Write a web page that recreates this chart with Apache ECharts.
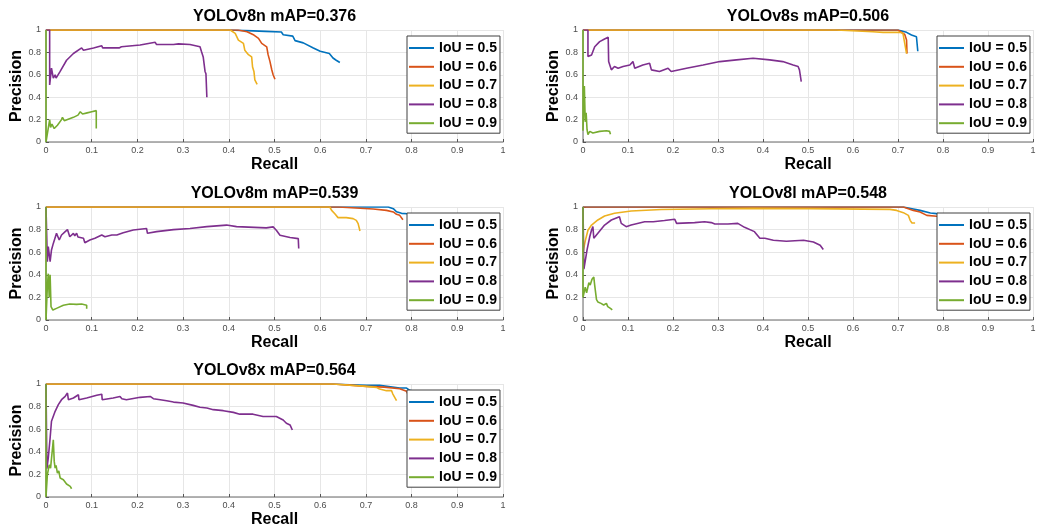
<!DOCTYPE html>
<html>
<head>
<meta charset="utf-8">
<script src="https://cdn.jsdelivr.net/npm/echarts@6/dist/echarts.min.js"></script>
<style>html,body{margin:0;padding:0;background:#fff}#c{width:1051px;height:531px}</style>
</head>
<body>
<div id="c"></div>
<script>
// ---------- data (recall, precision) ----------
const titles = ['YOLOv8n mAP=0.376','YOLOv8s mAP=0.506','YOLOv8m mAP=0.539','YOLOv8l mAP=0.548','YOLOv8x mAP=0.564'];
const seriesNames = ['IoU = 0.5','IoU = 0.6','IoU = 0.7','IoU = 0.8','IoU = 0.9'];
const xTicks = [0,0.1,0.2,0.3,0.4,0.5,0.6,0.7,0.8,0.9,1];
const yTicks = [0,0.2,0.4,0.6,0.8,1];

// YOLOv8n
const v8n_05 = [[0,1],[0.40,1],[0.44,0.994],[0.48,0.988],[0.515,0.982],[0.519,0.958],[0.54,0.945],[0.545,0.905],[0.563,0.885],[0.585,0.84],[0.6,0.81],[0.62,0.79],[0.628,0.75],[0.635,0.73],[0.643,0.71]];
const v8n_06 = [[0,1],[0.42,1],[0.44,0.985],[0.455,0.955],[0.465,0.925],[0.472,0.88],[0.483,0.85],[0.486,0.78],[0.49,0.72],[0.494,0.645],[0.497,0.6],[0.501,0.56]];
const v8n_07 = [[0,1],[0.403,1],[0.414,0.97],[0.421,0.91],[0.432,0.88],[0.435,0.82],[0.443,0.78],[0.45,0.76],[0.452,0.67],[0.455,0.63],[0.457,0.555],[0.462,0.515]];
const v8n_08 = [[0,1],[0.008,1],[0.008,0.51],[0.012,0.66],[0.016,0.57],[0.02,0.6],[0.022,0.57],[0.031,0.63],[0.045,0.73],[0.06,0.79],[0.078,0.84],[0.081,0.855],[0.082,0.82],[0.104,0.84],[0.122,0.86],[0.123,0.875],[0.124,0.84],[0.137,0.84],[0.14,0.855],[0.16,0.84],[0.165,0.85],[0.206,0.866],[0.239,0.89],[0.242,0.87],[0.279,0.87],[0.29,0.876],[0.315,0.87],[0.337,0.85],[0.34,0.81],[0.344,0.76],[0.348,0.63],[0.35,0.61],[0.352,0.40]];
const v8n_09 = [[0,1],[0,0],[0.004,0.1],[0.008,0.2],[0.01,0.13],[0.013,0.16],[0.018,0.12],[0.025,0.15],[0.034,0.2],[0.036,0.22],[0.04,0.19],[0.06,0.22],[0.07,0.24],[0.075,0.27],[0.08,0.25],[0.09,0.26],[0.1,0.27],[0.11,0.28],[0.11,0.12]];

// YOLOv8s
const v8s_05 = [[0,1],[0.70,1],[0.704,0.994],[0.719,0.979],[0.73,0.955],[0.741,0.94],[0.744,0.94],[0.744,0.81]];
const v8s_06 = [[0,1],[0.70,1],[0.704,0.985],[0.715,0.96],[0.719,0.91],[0.72,0.79]];
const v8s_07 = [[0,1],[0.563,1],[0.565,0.99],[0.644,0.985],[0.667,0.979],[0.704,0.979],[0.711,0.97],[0.715,0.88],[0.719,0.79]];
const v8s_08 = [[0,1],[0.011,1],[0.011,0.763],[0.019,0.777],[0.026,0.851],[0.037,0.896],[0.048,0.92],[0.056,0.935],[0.057,0.718],[0.059,0.703],[0.063,0.644],[0.07,0.674],[0.078,0.659],[0.089,0.674],[0.104,0.688],[0.111,0.718],[0.115,0.659],[0.133,0.688],[0.148,0.703],[0.152,0.644],[0.17,0.629],[0.189,0.659],[0.196,0.629],[0.23,0.659],[0.267,0.688],[0.304,0.718],[0.341,0.733],[0.378,0.748],[0.415,0.733],[0.444,0.718],[0.467,0.688],[0.478,0.674],[0.481,0.644],[0.485,0.54]];
const v8s_09 = [[0,1],[0,0.1],[0.003,0.5],[0.005,0.18],[0.007,0.26],[0.009,0.11],[0.011,0.065],[0.015,0.095],[0.022,0.08],[0.037,0.095],[0.052,0.1],[0.059,0.095],[0.061,0.07]];

// YOLOv8m
const v8m_05 = [[0,1],[0.749,1],[0.76,0.985],[0.767,0.958],[0.778,0.944],[0.792,0.94],[0.8,0.93]];
const v8m_06 = [[0,1],[0.64,1],[0.643,0.985],[0.716,0.982],[0.745,0.97],[0.76,0.956],[0.767,0.935],[0.774,0.926],[0.781,0.888]];
const v8m_07 = [[0,1],[0.621,1],[0.625,0.97],[0.632,0.94],[0.639,0.906],[0.657,0.906],[0.672,0.897],[0.679,0.882],[0.683,0.853],[0.687,0.788]];
const v8m_08 = [[0,1],[0.003,1],[0.003,0.516],[0.005,0.649],[0.009,0.516],[0.012,0.62],[0.016,0.678],[0.023,0.767],[0.027,0.782],[0.029,0.708],[0.034,0.752],[0.042,0.782],[0.047,0.8],[0.052,0.737],[0.06,0.767],[0.063,0.745],[0.067,0.767],[0.07,0.735],[0.074,0.752],[0.082,0.723],[0.085,0.684],[0.096,0.708],[0.107,0.723],[0.122,0.752],[0.129,0.737],[0.144,0.752],[0.155,0.752],[0.169,0.772],[0.191,0.796],[0.22,0.81],[0.222,0.767],[0.242,0.782],[0.279,0.8],[0.315,0.81],[0.352,0.826],[0.395,0.84],[0.417,0.826],[0.482,0.815],[0.497,0.824],[0.504,0.794],[0.512,0.75],[0.515,0.735],[0.534,0.73],[0.552,0.72],[0.553,0.632]];
const v8m_09 = [[0,1],[0,0],[0.003,0.3],[0.005,0.41],[0.007,0.2],[0.009,0.4],[0.011,0.118],[0.015,0.088],[0.023,0.103],[0.038,0.13],[0.052,0.142],[0.067,0.138],[0.078,0.142],[0.089,0.13],[0.089,0.1]];

// YOLOv8l
const v8l_05 = [[0,1],[0.712,1],[0.731,0.985],[0.749,0.97],[0.772,0.947],[0.786,0.941],[0.8,0.935]];
const v8l_06 = [[0,1],[0.712,1],[0.734,0.97],[0.749,0.956],[0.764,0.926],[0.786,0.918],[0.795,0.915]];
const v8l_07 = [[0,0.6],[0.005,0.7],[0.011,0.794],[0.019,0.84],[0.022,0.85],[0.033,0.885],[0.048,0.92],[0.07,0.944],[0.107,0.965],[0.174,0.978],[0.285,0.985],[0.378,0.988],[0.504,0.986],[0.682,0.979],[0.697,0.97],[0.712,0.95],[0.723,0.926],[0.727,0.882],[0.731,0.859],[0.738,0.859]];
const v8l_08 = [[0,1],[0.002,0.45],[0.009,0.62],[0.015,0.737],[0.019,0.796],[0.022,0.826],[0.024,0.723],[0.033,0.767],[0.048,0.84],[0.063,0.885],[0.081,0.914],[0.085,0.855],[0.096,0.826],[0.107,0.84],[0.137,0.87],[0.156,0.87],[0.158,0.862],[0.181,0.88],[0.204,0.891],[0.208,0.855],[0.248,0.862],[0.27,0.87],[0.285,0.862],[0.293,0.85],[0.322,0.85],[0.344,0.855],[0.359,0.82],[0.381,0.782],[0.393,0.723],[0.404,0.723],[0.423,0.706],[0.452,0.697],[0.49,0.706],[0.512,0.691],[0.527,0.662],[0.534,0.624]];
const v8l_09 = [[0,1],[0,0.2],[0.005,0.29],[0.008,0.24],[0.013,0.33],[0.016,0.31],[0.02,0.36],[0.024,0.38],[0.026,0.306],[0.03,0.18],[0.033,0.16],[0.04,0.147],[0.046,0.133],[0.052,0.147],[0.055,0.118],[0.061,0.103],[0.065,0.09]];

// YOLOv8x
const v8x_05 = [[0,1],[0.628,1],[0.665,0.994],[0.701,0.988],[0.73,0.988],[0.774,0.964],[0.789,0.964],[0.796,0.944],[0.8,0.94]];
const v8x_06 = [[0,1],[0.628,1],[0.665,0.99],[0.701,0.979],[0.74,0.972],[0.774,0.958],[0.789,0.935],[0.792,0.911]];
const v8x_07 = [[0,1],[0.628,1],[0.63,0.994],[0.701,0.979],[0.723,0.97],[0.73,0.955],[0.745,0.941],[0.756,0.941],[0.759,0.911],[0.767,0.852]];
const v8x_08 = [[0,1],[0.002,0.25],[0.005,0.345],[0.009,0.522],[0.012,0.67],[0.02,0.758],[0.027,0.817],[0.034,0.861],[0.042,0.891],[0.047,0.92],[0.049,0.861],[0.06,0.876],[0.071,0.905],[0.072,0.861],[0.089,0.876],[0.111,0.9],[0.122,0.91],[0.123,0.861],[0.147,0.876],[0.162,0.89],[0.166,0.87],[0.176,0.861],[0.206,0.882],[0.228,0.89],[0.235,0.87],[0.25,0.861],[0.264,0.852],[0.279,0.84],[0.3,0.832],[0.322,0.811],[0.337,0.794],[0.352,0.788],[0.366,0.773],[0.388,0.764],[0.41,0.749],[0.424,0.733],[0.453,0.733],[0.475,0.712],[0.504,0.712],[0.519,0.682],[0.526,0.653],[0.534,0.638],[0.539,0.593]];
const v8x_09 = [[0,1],[0,0],[0.003,0.197],[0.007,0.285],[0.01,0.256],[0.016,0.507],[0.018,0.315],[0.02,0.256],[0.022,0.28],[0.025,0.212],[0.028,0.23],[0.031,0.168],[0.034,0.18],[0.038,0.153],[0.041,0.16],[0.045,0.115],[0.053,0.094],[0.056,0.1],[0.056,0.073]];

const panels = [
  [v8n_05, v8n_06, v8n_07, v8n_08, v8n_09],
  [v8s_05, v8s_06, v8s_07, v8s_08, v8s_09],
  [v8m_05, v8m_06, v8m_07, v8m_08, v8m_09],
  [v8l_05, v8l_06, v8l_07, v8l_08, v8l_09],
  [v8x_05, v8x_06, v8x_07, v8x_08, v8x_09]
];

// ---------- layout & style ----------
const colors = ['#0072BD','#D95319','#EDB120','#7E2F8E','#77AC30'];
const gridBoxes = [
  {left:46,  top:30,  width:457, height:112},
  {left:583, top:30,  width:450, height:112},
  {left:46,  top:207, width:457, height:113},
  {left:583, top:207, width:450, height:113},
  {left:46,  top:384, width:457, height:113}
];
const FONT = '"Liberation Sans", Arial, Helvetica, sans-serif';

const option = {
  animation: false,
  backgroundColor: '#fff',
  color: colors,
  title: gridBoxes.map((g,i) => ({
    text: titles[i],
    left: g.left + g.width/2,
    top: g.top - 21,
    textAlign: 'center',
    padding: 0,
    textStyle: {fontFamily: FONT, fontSize: 16, fontWeight: 'bold', color: '#000'}
  })),
  grid: gridBoxes.map(g => ({left:g.left, top:g.top, width:g.width, height:g.height, containLabel:false})),
  xAxis: gridBoxes.map((g,i) => ({
    type: 'value', gridIndex: i, min: 0, max: 1, interval: 0.1,
    name: 'Recall', nameLocation: 'middle', nameGap: 15,
    nameTextStyle: {fontFamily: FONT, fontSize: 16, fontWeight: 'bold', color: '#000'},
    axisLine: {show: true, lineStyle: {color: '#9a9a9a', width: 1.5}},
    axisTick: {show: true, inside: true, length: 3, lineStyle: {color: '#555'}},
    axisLabel: {fontFamily: FONT, fontSize: 9, color: '#4d4d4d', margin: 4},
    splitLine: {show: true, lineStyle: {color: '#e6e6e6', width: 1}}
  })),
  yAxis: gridBoxes.map((g,i) => ({
    type: 'value', gridIndex: i, min: 0, max: 1, interval: 0.2,
    name: 'Precision', nameLocation: 'middle', nameGap: 17, nameRotate: 90,
    nameTextStyle: {fontFamily: FONT, fontSize: 16, fontWeight: 'bold', color: '#000'},
    axisLine: {show: true, lineStyle: {color: '#9a9a9a', width: 1.5}},
    axisTick: {show: true, inside: true, length: 3, lineStyle: {color: '#555'}},
    axisLabel: {fontFamily: FONT, fontSize: 9, color: '#4d4d4d', margin: 5},
    splitLine: {show: true, lineStyle: {color: '#e6e6e6', width: 1}}
  })),
  legend: gridBoxes.map(g => ({
    data: seriesNames.map(n => ({name: n, icon: 'rect'})),
    orient: 'vertical',
    left: g.left + g.width - 96,
    top: g.top + 6,
    backgroundColor: '#fff',
    borderColor: '#404040',
    borderWidth: 1,
    borderRadius: 0,
    padding: [4, 3, 2, 2],
    itemGap: 2.8,
    itemWidth: 25,
    itemHeight: 2,
    selectedMode: false,
    textStyle: {fontFamily: FONT, fontSize: 14, fontWeight: 'bold', color: '#000', lineHeight: 16}
  })),
  series: []
};

panels.forEach((sets, gi) => {
  sets.forEach((data, si) => {
    option.series.push({
      type: 'line',
      name: seriesNames[si],
      xAxisIndex: gi,
      yAxisIndex: gi,
      data: data,
      symbol: 'none',
      showSymbol: false,
      lineStyle: {width: 1.6, color: colors[si]},
      itemStyle: {color: colors[si]},
      z: 2 + si
    });
  });
});

const chart = echarts.init(document.getElementById('c'), null, {renderer: 'canvas'});
chart.setOption(option);
</script>
</body>
</html>
